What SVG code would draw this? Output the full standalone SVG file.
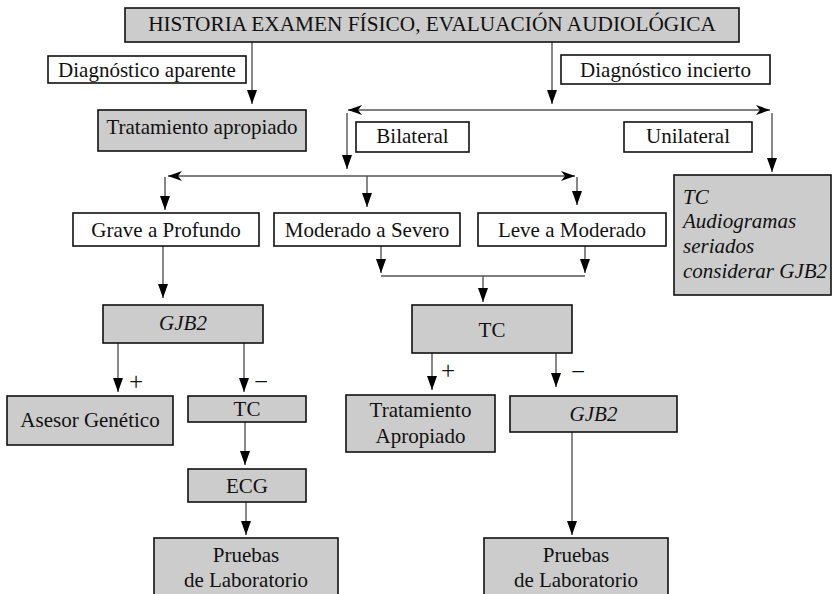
<svg xmlns="http://www.w3.org/2000/svg" width="832" height="594" viewBox="0 0 832 594" font-family="'Liberation Serif', 'Times New Roman', Times, 'DejaVu Serif', serif">
<defs>
<style>
.g{fill:#cccccc;stroke:#111;stroke-width:1.6}
.w{fill:#fff;stroke:#111;stroke-width:1.6}
text{font-family:'Liberation Serif','Times New Roman',Times,'DejaVu Serif',serif;font-size:21px;fill:#111}
.c{text-anchor:middle}
.i{font-style:italic}
.s{font-size:25px}
.ln{fill:none;stroke:#555;stroke-width:1.4}
</style>
<marker id="a" markerUnits="userSpaceOnUse" markerWidth="16" markerHeight="12" refX="14" refY="5" orient="auto">
<path d="M0,0 L14,5 L0,10 z" fill="#000"/>
</marker>
<marker id="b" markerUnits="userSpaceOnUse" markerWidth="16" markerHeight="12" refX="14" refY="5" orient="auto-start-reverse">
<path d="M0,0 L14,5 L0,10 L4,5 z" fill="#000"/>
</marker>
</defs>
<rect width="832" height="594" fill="#fff"/>
<g id="connectors">
<path class="ln" d="M252,42 V104" marker-end="url(#a)"/>
<path class="ln" d="M552,42 V104" marker-end="url(#a)"/>
<path class="ln" d="M348,110 H770" marker-start="url(#b)" marker-end="url(#b)"/>
<path class="ln" d="M347,113 V169" marker-end="url(#a)"/>
<path class="ln" d="M772,113 V172" marker-end="url(#a)"/>
<path class="ln" d="M168,176 H575" marker-start="url(#b)" marker-end="url(#b)"/>
<path class="ln" d="M165,177 V210" marker-end="url(#a)"/>
<path class="ln" d="M367,176 V207" marker-end="url(#a)"/>
<path class="ln" d="M577,177 V205" marker-end="url(#a)"/>
<path class="ln" d="M163,246 V298" marker-end="url(#a)"/>
<path class="ln" d="M381,246 V273" marker-end="url(#a)"/>
<path class="ln" d="M585,246 V273" marker-end="url(#a)"/>
<path class="ln" d="M381,276 H585"/>
<path class="ln" d="M483,276 V302" marker-end="url(#a)"/>
<path class="ln" d="M118,343 V392" marker-end="url(#a)"/>
<path class="ln" d="M244,343 V392" marker-end="url(#a)"/>
<path class="ln" d="M245,422 V465" marker-end="url(#a)"/>
<path class="ln" d="M246,502 V535" marker-end="url(#a)"/>
<path class="ln" d="M432,353 V390" marker-end="url(#a)"/>
<path class="ln" d="M556,353 V387" marker-end="url(#a)"/>
<path class="ln" d="M572,432 V535" marker-end="url(#a)"/>
<text class="s" x="129" y="390">+</text>
<text class="s" x="254" y="390">−</text>
<text class="s" x="441" y="379">+</text>
<text class="s" x="571" y="380">−</text>
</g>
<g id="n-historia"><rect class="g" x="125" y="8" width="614" height="34"/><text class="c" x="432" y="31" style="font-size:21.3px">HISTORIA EXAMEN FÍSICO, EVALUACIÓN AUDIOLÓGICA</text></g>
<g id="n-diag-aparente"><rect class="w" x="48" y="56" width="198" height="27"/><text class="c" x="147" y="77">Diagnóstico aparente</text></g>
<g id="n-diag-incierto"><rect class="w" x="561" y="55" width="209" height="29"/><text class="c" x="665.5" y="77">Diagnóstico incierto</text></g>
<g id="n-trat-apropiado"><rect class="g" x="98" y="110" width="208" height="41"/><text class="c" x="202" y="134">Tratamiento apropiado</text></g>
<g id="n-bilateral"><rect class="w" x="356" y="122" width="113" height="30"/><text class="c" x="412.5" y="143">Bilateral</text></g>
<g id="n-unilateral"><rect class="w" x="624" y="122" width="128" height="30"/><text class="c" x="688" y="143">Unilateral</text></g>
<g id="n-tc-audio"><rect class="g" x="674" y="175" width="157" height="120"/>
<text class="i" x="683" y="204">TC</text>
<text class="i" x="683" y="228">Audiogramas</text>
<text class="i" x="683" y="253">seriados</text>
<text class="i" x="683" y="278">considerar GJB2</text></g>
<g id="n-grave"><rect class="w" x="73" y="213" width="186" height="33"/><text class="c" x="166" y="237">Grave a Profundo</text></g>
<g id="n-moderado"><rect class="w" x="274" y="213" width="186" height="33"/><text class="c" x="367" y="237">Moderado a Severo</text></g>
<g id="n-leve"><rect class="w" x="478" y="213" width="188" height="33"/><text class="c" x="572" y="237">Leve a Moderado</text></g>
<g id="n-gjb2-a"><rect class="g" x="103" y="305" width="160" height="38"/><text class="c i" x="183" y="330">GJB2</text></g>
<g id="n-tc-b"><rect class="g" x="412" y="305" width="160" height="48"/><text class="c" x="492" y="337">TC</text></g>
<g id="n-asesor"><rect class="g" x="7" y="396" width="166" height="49"/><text class="c" x="90" y="427">Asesor Genético</text></g>
<g id="n-tc-a"><rect class="g" x="188" y="396" width="118" height="26"/><text class="c" x="247" y="416">TC</text></g>
<g id="n-ecg"><rect class="g" x="188" y="469" width="118" height="33"/><text class="c" x="247" y="493">ECG</text></g>
<g id="n-pruebas-a"><rect class="g" x="154" y="538" width="184" height="70"/><text class="c" x="246" y="562">Pruebas</text><text class="c" x="246" y="587">de Laboratorio</text></g>
<g id="n-trat-b"><rect class="g" x="346" y="395" width="149" height="57"/><text class="c" x="420.5" y="417">Tratamiento</text><text class="c" x="420.5" y="443">Apropiado</text></g>
<g id="n-gjb2-b"><rect class="g" x="510" y="396" width="167" height="36"/><text class="c i" x="593.5" y="421">GJB2</text></g>
<g id="n-pruebas-b"><rect class="g" x="484" y="538" width="184" height="70"/><text class="c" x="576" y="562">Pruebas</text><text class="c" x="576" y="587">de Laboratorio</text></g>
</svg>
